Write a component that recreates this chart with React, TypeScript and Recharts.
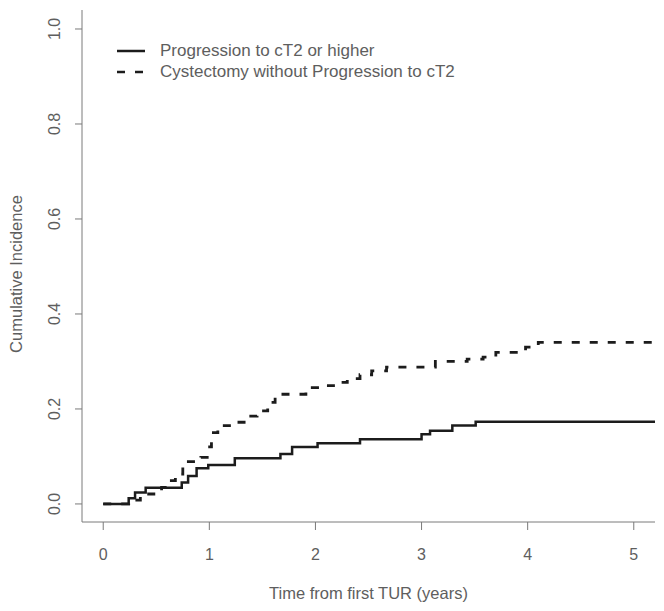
import { Line, LineChart, XAxis, YAxis } from "recharts";

const xTicks = [0, 1, 2, 3, 4, 5];
const yTicks = [0, 0.2, 0.4, 0.6, 0.8, 1.0];

const progressionTimes = [0, 0.24, 0.3, 0.4, 0.74, 0.8, 0.88, 0.99, 1.24, 1.67, 1.78, 2.02, 2.42, 3.0, 3.08, 3.29, 3.51, 5.2];
const progressionValues = [0, 0.012, 0.024, 0.034, 0.045, 0.059, 0.075, 0.082, 0.096, 0.105, 0.12, 0.128, 0.136, 0.147, 0.154, 0.165, 0.173, 0.173];

const cystectomyTimes = [0, 0.24, 0.27, 0.35, 0.55, 0.62, 0.68, 0.75, 0.78, 0.92, 0.98, 1.02, 1.08, 1.25, 1.36, 1.45, 1.55, 1.62, 1.91, 2.02, 2.17, 2.3, 2.42, 2.53, 2.67, 3.13, 3.43, 3.58, 3.7, 3.98, 4.1, 5.2];
const cystectomyValues = [0, 0.005, 0.008, 0.021, 0.035, 0.049, 0.063, 0.078, 0.089, 0.098, 0.12, 0.15, 0.165, 0.172, 0.185, 0.196, 0.214, 0.231, 0.245, 0.249, 0.256, 0.264, 0.272, 0.28, 0.288, 0.3, 0.305, 0.309, 0.319, 0.33, 0.34, 0.34];

const progression = progressionTimes.map((time, i) => ({ time, value: progressionValues[i] }));
const cystectomy = cystectomyTimes.map((time, i) => ({ time, value: cystectomyValues[i] }));

const TEXT = "#5e5e5e";
const AXIS = "#7a7a7a";
const INK = "#1c1c1c";
const FONT = "'Liberation Sans', Arial, sans-serif";

const legendItems = [
  { label: "Progression to cT2 or higher", dash: undefined },
  { label: "Cystectomy without Progression to cT2", dash: "8 10" },
];

function XTick({ x, y, payload }: any) {
  return (
    <text x={x} y={y + 28} textAnchor="middle" fill={TEXT} fontSize={16} fontFamily={FONT}>
      {payload.value}
    </text>
  );
}

function YTick({ x, y, payload }: any) {
  return (
    <text
      transform={`translate(${x - 13}, ${y}) rotate(-90)`}
      textAnchor="middle"
      fill={TEXT}
      fontSize={16}
      fontFamily={FONT}
    >
      {Number(payload.value).toFixed(1)}
    </text>
  );
}

// legend sits inside the plot, so it is drawn on top instead of taking space from it
function LegendBox() {
  return (
    <div style={{ position: "absolute", left: 117, top: 40, fontFamily: FONT, fontSize: 17, color: TEXT }}>
      {legendItems.map((item) => (
        <div key={item.label} style={{ display: "flex", alignItems: "center", height: 21 }}>
          <svg width={28} height={6} style={{ marginRight: 15 }}>
            <line x1={0} y1={3} x2={28} y2={3} stroke={INK} strokeWidth={2.5} strokeDasharray={item.dash} />
          </svg>
          <span>{item.label}</span>
        </div>
      ))}
    </div>
  );
}

export default function App() {
  return (
    <div style={{ position: "absolute", left: 0, top: 0, width: 664, height: 611, background: "#fff" }}>
      <LineChart width={664} height={611} margin={{ top: 10, right: 9, left: 0, bottom: 0 }}>
        <XAxis
          dataKey="time"
          type="number"
          domain={[-0.2, 5.2]}
          ticks={xTicks}
          allowDataOverflow
          height={89}
          stroke={AXIS}
          tickSize={8}
          tick={<XTick />}
          label={{
            content: ({ viewBox }: any) => (
              <text
                x={viewBox.x + viewBox.width / 2}
                y={viewBox.y + 77}
                textAnchor="middle"
                fill={TEXT}
                fontSize={16.5}
                fontFamily={FONT}
              >
                Time from first TUR (years)
              </text>
            ),
          }}
        />
        <YAxis
          type="number"
          domain={[-0.038, 1.04]}
          ticks={yTicks}
          allowDataOverflow
          width={82}
          stroke={AXIS}
          tickSize={7}
          tick={<YTick />}
          label={{
            content: ({ viewBox }: any) => (
              <text
                transform={`translate(${viewBox.x + 22}, ${viewBox.y + viewBox.height / 2 + 8}) rotate(-90)`}
                textAnchor="middle"
                fill={TEXT}
                fontSize={16.5}
                fontFamily={FONT}
              >
                Cumulative Incidence
              </text>
            ),
          }}
        />
        <Line
          data={progression}
          dataKey="value"
          type="stepAfter"
          stroke={INK}
          strokeWidth={2.5}
          dot={false}
          isAnimationActive={false}
        />
        <Line
          data={cystectomy}
          dataKey="value"
          type="stepAfter"
          stroke={INK}
          strokeWidth={2.8}
          strokeDasharray="8 10"
          dot={false}
          isAnimationActive={false}
        />
      </LineChart>
      <LegendBox />
    </div>
  );
}
